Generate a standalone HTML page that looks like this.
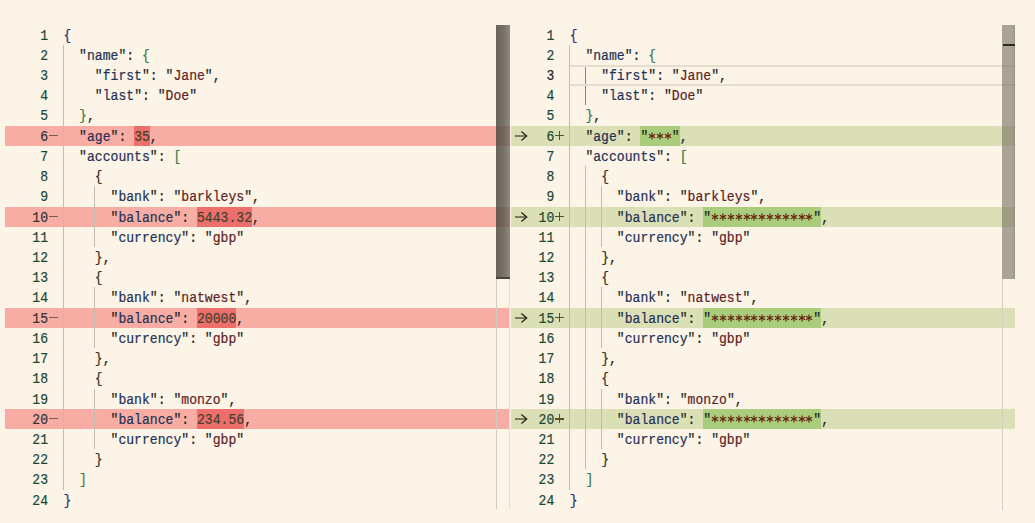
<!DOCTYPE html>
<html><head><meta charset="utf-8"><style>
*{margin:0;padding:0;box-sizing:border-box}
html,body{width:1035px;height:523px;overflow:hidden;background:#fcf4e7}
body{position:relative;font-family:"Liberation Mono",monospace;font-size:13.100px}
.a{position:absolute}
.ln{position:absolute;height:20.22px;line-height:20.22px;white-space:pre;transform:translateY(1.7px) scaleY(1.09);transform-origin:0 50%;-webkit-text-stroke:0.18px currentColor}
.p{color:#1e1e1e} .k{color:#233055} .s{color:#5c2224} .n{color:#453f2c}
.b0{color:#2c2f72} .b1{color:#3d7a4c} .b2{color:#3a3020} .ast{color:#66220e}

.num{position:absolute;height:20.22px;line-height:20.22px;text-align:right;width:40px;color:#1a4733;transform:translateY(1.7px) scaleY(1.09);transform-origin:0 50%;-webkit-text-stroke:0.18px currentColor}
.g{position:absolute;width:1px;background:#c3bbae}
</style></head>
<body>
<div class="a" style="left:4.5px;top:125.70px;width:505.5px;height:20.22px;background:#f7ada3"></div>
<div class="a" style="left:4.5px;top:206.58px;width:505.5px;height:20.22px;background:#f7ada3"></div>
<div class="a" style="left:4.5px;top:307.68px;width:505.5px;height:20.22px;background:#f7ada3"></div>
<div class="a" style="left:4.5px;top:408.78px;width:505.5px;height:20.22px;background:#f7ada3"></div>
<div class="a" style="left:134.14px;top:125.70px;width:15.72px;height:20.22px;background:#ec6f6b"></div>
<div class="a" style="left:197.02px;top:206.58px;width:55.02px;height:20.22px;background:#ec6f6b"></div>
<div class="a" style="left:197.02px;top:307.68px;width:39.30px;height:20.22px;background:#ec6f6b"></div>
<div class="a" style="left:197.02px;top:408.78px;width:47.16px;height:20.22px;background:#ec6f6b"></div>
<div class="g" style="left:63px;top:44.82px;height:444.84px"></div>
<div class="g" style="left:94px;top:186.36px;height:60.66px"></div>
<div class="g" style="left:94px;top:287.46px;height:60.66px"></div>
<div class="g" style="left:94px;top:388.56px;height:60.66px"></div>
<div class="num" style="left:8.00px;top:24.60px;color:#1a4733">1</div>
<div class="num" style="left:8.00px;top:44.82px;color:#1a4733">2</div>
<div class="num" style="left:8.00px;top:65.04px;color:#1a4733">3</div>
<div class="num" style="left:8.00px;top:85.26px;color:#1a4733">4</div>
<div class="num" style="left:8.00px;top:105.48px;color:#1a4733">5</div>
<div class="num" style="left:8.00px;top:125.70px;color:#333333">6</div>
<div class="a" style="left:49.3px;top:135.21px;width:8.6px;height:1.2px;background:#6e5e55"></div>
<div class="num" style="left:8.00px;top:145.92px;color:#1a4733">7</div>
<div class="num" style="left:8.00px;top:166.14px;color:#1a4733">8</div>
<div class="num" style="left:8.00px;top:186.36px;color:#1a4733">9</div>
<div class="num" style="left:8.00px;top:206.58px;color:#333333">10</div>
<div class="a" style="left:49.3px;top:216.09px;width:8.6px;height:1.2px;background:#6e5e55"></div>
<div class="num" style="left:8.00px;top:226.80px;color:#1a4733">11</div>
<div class="num" style="left:8.00px;top:247.02px;color:#1a4733">12</div>
<div class="num" style="left:8.00px;top:267.24px;color:#1a4733">13</div>
<div class="num" style="left:8.00px;top:287.46px;color:#1a4733">14</div>
<div class="num" style="left:8.00px;top:307.68px;color:#333333">15</div>
<div class="a" style="left:49.3px;top:317.19px;width:8.6px;height:1.2px;background:#6e5e55"></div>
<div class="num" style="left:8.00px;top:327.90px;color:#1a4733">16</div>
<div class="num" style="left:8.00px;top:348.12px;color:#1a4733">17</div>
<div class="num" style="left:8.00px;top:368.34px;color:#1a4733">18</div>
<div class="num" style="left:8.00px;top:388.56px;color:#1a4733">19</div>
<div class="num" style="left:8.00px;top:408.78px;color:#333333">20</div>
<div class="a" style="left:49.3px;top:418.29px;width:8.6px;height:1.2px;background:#6e5e55"></div>
<div class="num" style="left:8.00px;top:429.00px;color:#1a4733">21</div>
<div class="num" style="left:8.00px;top:449.22px;color:#1a4733">22</div>
<div class="num" style="left:8.00px;top:469.44px;color:#1a4733">23</div>
<div class="num" style="left:8.00px;top:489.66px;color:#1a4733">24</div>
<div class="ln" style="left:63.40px;top:24.60px"><span class="b0">{</span></div>
<div class="ln" style="left:63.40px;top:44.82px">  <span class="p">&quot;</span><span class="k">name</span><span class="p">&quot;</span><span class="p">:</span><span class="p"> </span><span class="b1">{</span></div>
<div class="ln" style="left:63.40px;top:65.04px">    <span class="p">&quot;</span><span class="k">first</span><span class="p">&quot;</span><span class="p">:</span><span class="p"> </span><span class="p">&quot;</span><span class="s">Jane</span><span class="p">&quot;</span><span class="p">,</span></div>
<div class="ln" style="left:63.40px;top:85.26px">    <span class="p">&quot;</span><span class="k">last</span><span class="p">&quot;</span><span class="p">:</span><span class="p"> </span><span class="p">&quot;</span><span class="s">Doe</span><span class="p">&quot;</span></div>
<div class="ln" style="left:63.40px;top:105.48px">  <span class="b1">}</span><span class="p">,</span></div>
<div class="ln" style="left:63.40px;top:125.70px">  <span class="p">&quot;</span><span class="k">age</span><span class="p">&quot;</span><span class="p">:</span><span class="p"> </span><span class="n">35</span><span class="p">,</span></div>
<div class="ln" style="left:63.40px;top:145.92px">  <span class="p">&quot;</span><span class="k">accounts</span><span class="p">&quot;</span><span class="p">:</span><span class="p"> </span><span class="b1">[</span></div>
<div class="ln" style="left:63.40px;top:166.14px">    <span class="b2">{</span></div>
<div class="ln" style="left:63.40px;top:186.36px">      <span class="p">&quot;</span><span class="k">bank</span><span class="p">&quot;</span><span class="p">:</span><span class="p"> </span><span class="p">&quot;</span><span class="s">barkleys</span><span class="p">&quot;</span><span class="p">,</span></div>
<div class="ln" style="left:63.40px;top:206.58px">      <span class="p">&quot;</span><span class="k">balance</span><span class="p">&quot;</span><span class="p">:</span><span class="p"> </span><span class="n">5443.32</span><span class="p">,</span></div>
<div class="ln" style="left:63.40px;top:226.80px">      <span class="p">&quot;</span><span class="k">currency</span><span class="p">&quot;</span><span class="p">:</span><span class="p"> </span><span class="p">&quot;</span><span class="s">gbp</span><span class="p">&quot;</span></div>
<div class="ln" style="left:63.40px;top:247.02px">    <span class="b2">}</span><span class="p">,</span></div>
<div class="ln" style="left:63.40px;top:267.24px">    <span class="b2">{</span></div>
<div class="ln" style="left:63.40px;top:287.46px">      <span class="p">&quot;</span><span class="k">bank</span><span class="p">&quot;</span><span class="p">:</span><span class="p"> </span><span class="p">&quot;</span><span class="s">natwest</span><span class="p">&quot;</span><span class="p">,</span></div>
<div class="ln" style="left:63.40px;top:307.68px">      <span class="p">&quot;</span><span class="k">balance</span><span class="p">&quot;</span><span class="p">:</span><span class="p"> </span><span class="n">20000</span><span class="p">,</span></div>
<div class="ln" style="left:63.40px;top:327.90px">      <span class="p">&quot;</span><span class="k">currency</span><span class="p">&quot;</span><span class="p">:</span><span class="p"> </span><span class="p">&quot;</span><span class="s">gbp</span><span class="p">&quot;</span></div>
<div class="ln" style="left:63.40px;top:348.12px">    <span class="b2">}</span><span class="p">,</span></div>
<div class="ln" style="left:63.40px;top:368.34px">    <span class="b2">{</span></div>
<div class="ln" style="left:63.40px;top:388.56px">      <span class="p">&quot;</span><span class="k">bank</span><span class="p">&quot;</span><span class="p">:</span><span class="p"> </span><span class="p">&quot;</span><span class="s">monzo</span><span class="p">&quot;</span><span class="p">,</span></div>
<div class="ln" style="left:63.40px;top:408.78px">      <span class="p">&quot;</span><span class="k">balance</span><span class="p">&quot;</span><span class="p">:</span><span class="p"> </span><span class="n">234.56</span><span class="p">,</span></div>
<div class="ln" style="left:63.40px;top:429.00px">      <span class="p">&quot;</span><span class="k">currency</span><span class="p">&quot;</span><span class="p">:</span><span class="p"> </span><span class="p">&quot;</span><span class="s">gbp</span><span class="p">&quot;</span></div>
<div class="ln" style="left:63.40px;top:449.22px">    <span class="b2">}</span></div>
<div class="ln" style="left:63.40px;top:469.44px">  <span class="b1">]</span></div>
<div class="ln" style="left:63.40px;top:489.66px"><span class="b0">}</span></div>
<div class="a" style="left:511px;top:125.70px;width:504px;height:20.22px;background:#dbdfb5"></div>
<div class="a" style="left:511px;top:206.58px;width:504px;height:20.22px;background:#dbdfb5"></div>
<div class="a" style="left:511px;top:307.68px;width:504px;height:20.22px;background:#dbdfb5"></div>
<div class="a" style="left:511px;top:408.78px;width:504px;height:20.22px;background:#dbdfb5"></div>
<div class="a" style="left:640.44px;top:125.70px;width:39.30px;height:20.22px;background:#a9cd7c"></div>
<div class="a" style="left:703.32px;top:206.58px;width:117.90px;height:20.22px;background:#a9cd7c"></div>
<div class="a" style="left:703.32px;top:307.68px;width:117.90px;height:20.22px;background:#a9cd7c"></div>
<div class="a" style="left:703.32px;top:408.78px;width:117.90px;height:20.22px;background:#a9cd7c"></div>
<svg class="a" style="left:647.23px;top:131.31px" width="10" height="10" viewBox="-5 -5 10 10"><path d="M0 -3.6V3.6M-3.12 -1.80L3.12 1.80M-3.12 1.80L3.12 -1.80" stroke="#66220e" stroke-width="1.15" fill="none"/></svg>
<svg class="a" style="left:655.09px;top:131.31px" width="10" height="10" viewBox="-5 -5 10 10"><path d="M0 -3.6V3.6M-3.12 -1.80L3.12 1.80M-3.12 1.80L3.12 -1.80" stroke="#66220e" stroke-width="1.15" fill="none"/></svg>
<svg class="a" style="left:662.95px;top:131.31px" width="10" height="10" viewBox="-5 -5 10 10"><path d="M0 -3.6V3.6M-3.12 -1.80L3.12 1.80M-3.12 1.80L3.12 -1.80" stroke="#66220e" stroke-width="1.15" fill="none"/></svg>
<svg class="a" style="left:710.11px;top:212.19px" width="10" height="10" viewBox="-5 -5 10 10"><path d="M0 -3.6V3.6M-3.12 -1.80L3.12 1.80M-3.12 1.80L3.12 -1.80" stroke="#66220e" stroke-width="1.15" fill="none"/></svg>
<svg class="a" style="left:717.97px;top:212.19px" width="10" height="10" viewBox="-5 -5 10 10"><path d="M0 -3.6V3.6M-3.12 -1.80L3.12 1.80M-3.12 1.80L3.12 -1.80" stroke="#66220e" stroke-width="1.15" fill="none"/></svg>
<svg class="a" style="left:725.83px;top:212.19px" width="10" height="10" viewBox="-5 -5 10 10"><path d="M0 -3.6V3.6M-3.12 -1.80L3.12 1.80M-3.12 1.80L3.12 -1.80" stroke="#66220e" stroke-width="1.15" fill="none"/></svg>
<svg class="a" style="left:733.69px;top:212.19px" width="10" height="10" viewBox="-5 -5 10 10"><path d="M0 -3.6V3.6M-3.12 -1.80L3.12 1.80M-3.12 1.80L3.12 -1.80" stroke="#66220e" stroke-width="1.15" fill="none"/></svg>
<svg class="a" style="left:741.55px;top:212.19px" width="10" height="10" viewBox="-5 -5 10 10"><path d="M0 -3.6V3.6M-3.12 -1.80L3.12 1.80M-3.12 1.80L3.12 -1.80" stroke="#66220e" stroke-width="1.15" fill="none"/></svg>
<svg class="a" style="left:749.41px;top:212.19px" width="10" height="10" viewBox="-5 -5 10 10"><path d="M0 -3.6V3.6M-3.12 -1.80L3.12 1.80M-3.12 1.80L3.12 -1.80" stroke="#66220e" stroke-width="1.15" fill="none"/></svg>
<svg class="a" style="left:757.27px;top:212.19px" width="10" height="10" viewBox="-5 -5 10 10"><path d="M0 -3.6V3.6M-3.12 -1.80L3.12 1.80M-3.12 1.80L3.12 -1.80" stroke="#66220e" stroke-width="1.15" fill="none"/></svg>
<svg class="a" style="left:765.13px;top:212.19px" width="10" height="10" viewBox="-5 -5 10 10"><path d="M0 -3.6V3.6M-3.12 -1.80L3.12 1.80M-3.12 1.80L3.12 -1.80" stroke="#66220e" stroke-width="1.15" fill="none"/></svg>
<svg class="a" style="left:772.99px;top:212.19px" width="10" height="10" viewBox="-5 -5 10 10"><path d="M0 -3.6V3.6M-3.12 -1.80L3.12 1.80M-3.12 1.80L3.12 -1.80" stroke="#66220e" stroke-width="1.15" fill="none"/></svg>
<svg class="a" style="left:780.85px;top:212.19px" width="10" height="10" viewBox="-5 -5 10 10"><path d="M0 -3.6V3.6M-3.12 -1.80L3.12 1.80M-3.12 1.80L3.12 -1.80" stroke="#66220e" stroke-width="1.15" fill="none"/></svg>
<svg class="a" style="left:788.71px;top:212.19px" width="10" height="10" viewBox="-5 -5 10 10"><path d="M0 -3.6V3.6M-3.12 -1.80L3.12 1.80M-3.12 1.80L3.12 -1.80" stroke="#66220e" stroke-width="1.15" fill="none"/></svg>
<svg class="a" style="left:796.57px;top:212.19px" width="10" height="10" viewBox="-5 -5 10 10"><path d="M0 -3.6V3.6M-3.12 -1.80L3.12 1.80M-3.12 1.80L3.12 -1.80" stroke="#66220e" stroke-width="1.15" fill="none"/></svg>
<svg class="a" style="left:804.43px;top:212.19px" width="10" height="10" viewBox="-5 -5 10 10"><path d="M0 -3.6V3.6M-3.12 -1.80L3.12 1.80M-3.12 1.80L3.12 -1.80" stroke="#66220e" stroke-width="1.15" fill="none"/></svg>
<svg class="a" style="left:710.11px;top:313.29px" width="10" height="10" viewBox="-5 -5 10 10"><path d="M0 -3.6V3.6M-3.12 -1.80L3.12 1.80M-3.12 1.80L3.12 -1.80" stroke="#66220e" stroke-width="1.15" fill="none"/></svg>
<svg class="a" style="left:717.97px;top:313.29px" width="10" height="10" viewBox="-5 -5 10 10"><path d="M0 -3.6V3.6M-3.12 -1.80L3.12 1.80M-3.12 1.80L3.12 -1.80" stroke="#66220e" stroke-width="1.15" fill="none"/></svg>
<svg class="a" style="left:725.83px;top:313.29px" width="10" height="10" viewBox="-5 -5 10 10"><path d="M0 -3.6V3.6M-3.12 -1.80L3.12 1.80M-3.12 1.80L3.12 -1.80" stroke="#66220e" stroke-width="1.15" fill="none"/></svg>
<svg class="a" style="left:733.69px;top:313.29px" width="10" height="10" viewBox="-5 -5 10 10"><path d="M0 -3.6V3.6M-3.12 -1.80L3.12 1.80M-3.12 1.80L3.12 -1.80" stroke="#66220e" stroke-width="1.15" fill="none"/></svg>
<svg class="a" style="left:741.55px;top:313.29px" width="10" height="10" viewBox="-5 -5 10 10"><path d="M0 -3.6V3.6M-3.12 -1.80L3.12 1.80M-3.12 1.80L3.12 -1.80" stroke="#66220e" stroke-width="1.15" fill="none"/></svg>
<svg class="a" style="left:749.41px;top:313.29px" width="10" height="10" viewBox="-5 -5 10 10"><path d="M0 -3.6V3.6M-3.12 -1.80L3.12 1.80M-3.12 1.80L3.12 -1.80" stroke="#66220e" stroke-width="1.15" fill="none"/></svg>
<svg class="a" style="left:757.27px;top:313.29px" width="10" height="10" viewBox="-5 -5 10 10"><path d="M0 -3.6V3.6M-3.12 -1.80L3.12 1.80M-3.12 1.80L3.12 -1.80" stroke="#66220e" stroke-width="1.15" fill="none"/></svg>
<svg class="a" style="left:765.13px;top:313.29px" width="10" height="10" viewBox="-5 -5 10 10"><path d="M0 -3.6V3.6M-3.12 -1.80L3.12 1.80M-3.12 1.80L3.12 -1.80" stroke="#66220e" stroke-width="1.15" fill="none"/></svg>
<svg class="a" style="left:772.99px;top:313.29px" width="10" height="10" viewBox="-5 -5 10 10"><path d="M0 -3.6V3.6M-3.12 -1.80L3.12 1.80M-3.12 1.80L3.12 -1.80" stroke="#66220e" stroke-width="1.15" fill="none"/></svg>
<svg class="a" style="left:780.85px;top:313.29px" width="10" height="10" viewBox="-5 -5 10 10"><path d="M0 -3.6V3.6M-3.12 -1.80L3.12 1.80M-3.12 1.80L3.12 -1.80" stroke="#66220e" stroke-width="1.15" fill="none"/></svg>
<svg class="a" style="left:788.71px;top:313.29px" width="10" height="10" viewBox="-5 -5 10 10"><path d="M0 -3.6V3.6M-3.12 -1.80L3.12 1.80M-3.12 1.80L3.12 -1.80" stroke="#66220e" stroke-width="1.15" fill="none"/></svg>
<svg class="a" style="left:796.57px;top:313.29px" width="10" height="10" viewBox="-5 -5 10 10"><path d="M0 -3.6V3.6M-3.12 -1.80L3.12 1.80M-3.12 1.80L3.12 -1.80" stroke="#66220e" stroke-width="1.15" fill="none"/></svg>
<svg class="a" style="left:804.43px;top:313.29px" width="10" height="10" viewBox="-5 -5 10 10"><path d="M0 -3.6V3.6M-3.12 -1.80L3.12 1.80M-3.12 1.80L3.12 -1.80" stroke="#66220e" stroke-width="1.15" fill="none"/></svg>
<svg class="a" style="left:710.11px;top:414.39px" width="10" height="10" viewBox="-5 -5 10 10"><path d="M0 -3.6V3.6M-3.12 -1.80L3.12 1.80M-3.12 1.80L3.12 -1.80" stroke="#66220e" stroke-width="1.15" fill="none"/></svg>
<svg class="a" style="left:717.97px;top:414.39px" width="10" height="10" viewBox="-5 -5 10 10"><path d="M0 -3.6V3.6M-3.12 -1.80L3.12 1.80M-3.12 1.80L3.12 -1.80" stroke="#66220e" stroke-width="1.15" fill="none"/></svg>
<svg class="a" style="left:725.83px;top:414.39px" width="10" height="10" viewBox="-5 -5 10 10"><path d="M0 -3.6V3.6M-3.12 -1.80L3.12 1.80M-3.12 1.80L3.12 -1.80" stroke="#66220e" stroke-width="1.15" fill="none"/></svg>
<svg class="a" style="left:733.69px;top:414.39px" width="10" height="10" viewBox="-5 -5 10 10"><path d="M0 -3.6V3.6M-3.12 -1.80L3.12 1.80M-3.12 1.80L3.12 -1.80" stroke="#66220e" stroke-width="1.15" fill="none"/></svg>
<svg class="a" style="left:741.55px;top:414.39px" width="10" height="10" viewBox="-5 -5 10 10"><path d="M0 -3.6V3.6M-3.12 -1.80L3.12 1.80M-3.12 1.80L3.12 -1.80" stroke="#66220e" stroke-width="1.15" fill="none"/></svg>
<svg class="a" style="left:749.41px;top:414.39px" width="10" height="10" viewBox="-5 -5 10 10"><path d="M0 -3.6V3.6M-3.12 -1.80L3.12 1.80M-3.12 1.80L3.12 -1.80" stroke="#66220e" stroke-width="1.15" fill="none"/></svg>
<svg class="a" style="left:757.27px;top:414.39px" width="10" height="10" viewBox="-5 -5 10 10"><path d="M0 -3.6V3.6M-3.12 -1.80L3.12 1.80M-3.12 1.80L3.12 -1.80" stroke="#66220e" stroke-width="1.15" fill="none"/></svg>
<svg class="a" style="left:765.13px;top:414.39px" width="10" height="10" viewBox="-5 -5 10 10"><path d="M0 -3.6V3.6M-3.12 -1.80L3.12 1.80M-3.12 1.80L3.12 -1.80" stroke="#66220e" stroke-width="1.15" fill="none"/></svg>
<svg class="a" style="left:772.99px;top:414.39px" width="10" height="10" viewBox="-5 -5 10 10"><path d="M0 -3.6V3.6M-3.12 -1.80L3.12 1.80M-3.12 1.80L3.12 -1.80" stroke="#66220e" stroke-width="1.15" fill="none"/></svg>
<svg class="a" style="left:780.85px;top:414.39px" width="10" height="10" viewBox="-5 -5 10 10"><path d="M0 -3.6V3.6M-3.12 -1.80L3.12 1.80M-3.12 1.80L3.12 -1.80" stroke="#66220e" stroke-width="1.15" fill="none"/></svg>
<svg class="a" style="left:788.71px;top:414.39px" width="10" height="10" viewBox="-5 -5 10 10"><path d="M0 -3.6V3.6M-3.12 -1.80L3.12 1.80M-3.12 1.80L3.12 -1.80" stroke="#66220e" stroke-width="1.15" fill="none"/></svg>
<svg class="a" style="left:796.57px;top:414.39px" width="10" height="10" viewBox="-5 -5 10 10"><path d="M0 -3.6V3.6M-3.12 -1.80L3.12 1.80M-3.12 1.80L3.12 -1.80" stroke="#66220e" stroke-width="1.15" fill="none"/></svg>
<svg class="a" style="left:804.43px;top:414.39px" width="10" height="10" viewBox="-5 -5 10 10"><path d="M0 -3.6V3.6M-3.12 -1.80L3.12 1.80M-3.12 1.80L3.12 -1.80" stroke="#66220e" stroke-width="1.15" fill="none"/></svg>
<div class="g" style="left:569px;top:44.82px;height:444.84px"></div>
<div class="g" style="left:585px;top:166.14px;height:303.30px"></div>
<div class="g" style="left:601px;top:186.36px;height:60.66px"></div>
<div class="g" style="left:601px;top:287.46px;height:60.66px"></div>
<div class="g" style="left:601px;top:388.56px;height:60.66px"></div>
<div class="g" style="left:585px;top:65.04px;height:40.44px;background:#8c8474"></div>
<div class="a" style="left:569.70px;top:65.34px;width:445.30px;height:1.4px;background:#e6ddcc"></div>
<div class="a" style="left:569.70px;top:84.36px;width:445.30px;height:1.4px;background:#e6ddcc"></div>
<div class="num" style="left:514.30px;top:24.60px;color:#1a4733">1</div>
<div class="num" style="left:514.30px;top:44.82px;color:#1a4733">2</div>
<div class="num" style="left:514.30px;top:65.04px;color:#222222">3</div>
<div class="num" style="left:514.30px;top:85.26px;color:#1a4733">4</div>
<div class="num" style="left:514.30px;top:105.48px;color:#1a4733">5</div>
<div class="num" style="left:514.30px;top:125.70px;color:#1a4733">6</div>
<div class="a" style="left:555px;top:135.16px;width:9px;height:1.3px;background:#5a5030"></div>
<div class="a" style="left:558.85px;top:131.31px;width:1.3px;height:9px;background:#5a5030"></div>
<svg class="a" style="left:512px;top:127.81px" width="18" height="16" viewBox="0 0 18 16"><path d="M3 8H14" fill="none" stroke="#464634" stroke-width="1.3"/><path d="M9.4 3.4L14.7 8L9.4 12.6" fill="none" stroke="#24241a" stroke-width="1.3"/></svg>
<div class="num" style="left:514.30px;top:145.92px;color:#1a4733">7</div>
<div class="num" style="left:514.30px;top:166.14px;color:#1a4733">8</div>
<div class="num" style="left:514.30px;top:186.36px;color:#1a4733">9</div>
<div class="num" style="left:514.30px;top:206.58px;color:#1a4733">10</div>
<div class="a" style="left:555px;top:216.04px;width:9px;height:1.3px;background:#5a5030"></div>
<div class="a" style="left:558.85px;top:212.19px;width:1.3px;height:9px;background:#5a5030"></div>
<svg class="a" style="left:512px;top:208.69px" width="18" height="16" viewBox="0 0 18 16"><path d="M3 8H14" fill="none" stroke="#464634" stroke-width="1.3"/><path d="M9.4 3.4L14.7 8L9.4 12.6" fill="none" stroke="#24241a" stroke-width="1.3"/></svg>
<div class="num" style="left:514.30px;top:226.80px;color:#1a4733">11</div>
<div class="num" style="left:514.30px;top:247.02px;color:#1a4733">12</div>
<div class="num" style="left:514.30px;top:267.24px;color:#1a4733">13</div>
<div class="num" style="left:514.30px;top:287.46px;color:#1a4733">14</div>
<div class="num" style="left:514.30px;top:307.68px;color:#1a4733">15</div>
<div class="a" style="left:555px;top:317.14px;width:9px;height:1.3px;background:#5a5030"></div>
<div class="a" style="left:558.85px;top:313.29px;width:1.3px;height:9px;background:#5a5030"></div>
<svg class="a" style="left:512px;top:309.79px" width="18" height="16" viewBox="0 0 18 16"><path d="M3 8H14" fill="none" stroke="#464634" stroke-width="1.3"/><path d="M9.4 3.4L14.7 8L9.4 12.6" fill="none" stroke="#24241a" stroke-width="1.3"/></svg>
<div class="num" style="left:514.30px;top:327.90px;color:#1a4733">16</div>
<div class="num" style="left:514.30px;top:348.12px;color:#1a4733">17</div>
<div class="num" style="left:514.30px;top:368.34px;color:#1a4733">18</div>
<div class="num" style="left:514.30px;top:388.56px;color:#1a4733">19</div>
<div class="num" style="left:514.30px;top:408.78px;color:#1a4733">20</div>
<div class="a" style="left:555px;top:418.24px;width:9px;height:1.3px;background:#5a5030"></div>
<div class="a" style="left:558.85px;top:414.39px;width:1.3px;height:9px;background:#5a5030"></div>
<svg class="a" style="left:512px;top:410.89px" width="18" height="16" viewBox="0 0 18 16"><path d="M3 8H14" fill="none" stroke="#464634" stroke-width="1.3"/><path d="M9.4 3.4L14.7 8L9.4 12.6" fill="none" stroke="#24241a" stroke-width="1.3"/></svg>
<div class="num" style="left:514.30px;top:429.00px;color:#1a4733">21</div>
<div class="num" style="left:514.30px;top:449.22px;color:#1a4733">22</div>
<div class="num" style="left:514.30px;top:469.44px;color:#1a4733">23</div>
<div class="num" style="left:514.30px;top:489.66px;color:#1a4733">24</div>
<div class="ln" style="left:569.70px;top:24.60px"><span class="b0">{</span></div>
<div class="ln" style="left:569.70px;top:44.82px">  <span class="p">&quot;</span><span class="k">name</span><span class="p">&quot;</span><span class="p">:</span><span class="p"> </span><span class="b1">{</span></div>
<div class="ln" style="left:569.70px;top:65.04px">    <span class="p">&quot;</span><span class="k">first</span><span class="p">&quot;</span><span class="p">:</span><span class="p"> </span><span class="p">&quot;</span><span class="s">Jane</span><span class="p">&quot;</span><span class="p">,</span></div>
<div class="ln" style="left:569.70px;top:85.26px">    <span class="p">&quot;</span><span class="k">last</span><span class="p">&quot;</span><span class="p">:</span><span class="p"> </span><span class="p">&quot;</span><span class="s">Doe</span><span class="p">&quot;</span></div>
<div class="ln" style="left:569.70px;top:105.48px">  <span class="b1">}</span><span class="p">,</span></div>
<div class="ln" style="left:569.70px;top:125.70px">  <span class="p">&quot;</span><span class="k">age</span><span class="p">&quot;</span><span class="p">:</span><span class="p"> </span><span class="p">&quot;</span>   <span class="p">&quot;</span><span class="p">,</span></div>
<div class="ln" style="left:569.70px;top:145.92px">  <span class="p">&quot;</span><span class="k">accounts</span><span class="p">&quot;</span><span class="p">:</span><span class="p"> </span><span class="b1">[</span></div>
<div class="ln" style="left:569.70px;top:166.14px">    <span class="b2">{</span></div>
<div class="ln" style="left:569.70px;top:186.36px">      <span class="p">&quot;</span><span class="k">bank</span><span class="p">&quot;</span><span class="p">:</span><span class="p"> </span><span class="p">&quot;</span><span class="s">barkleys</span><span class="p">&quot;</span><span class="p">,</span></div>
<div class="ln" style="left:569.70px;top:206.58px">      <span class="p">&quot;</span><span class="k">balance</span><span class="p">&quot;</span><span class="p">:</span><span class="p"> </span><span class="p">&quot;</span>             <span class="p">&quot;</span><span class="p">,</span></div>
<div class="ln" style="left:569.70px;top:226.80px">      <span class="p">&quot;</span><span class="k">currency</span><span class="p">&quot;</span><span class="p">:</span><span class="p"> </span><span class="p">&quot;</span><span class="s">gbp</span><span class="p">&quot;</span></div>
<div class="ln" style="left:569.70px;top:247.02px">    <span class="b2">}</span><span class="p">,</span></div>
<div class="ln" style="left:569.70px;top:267.24px">    <span class="b2">{</span></div>
<div class="ln" style="left:569.70px;top:287.46px">      <span class="p">&quot;</span><span class="k">bank</span><span class="p">&quot;</span><span class="p">:</span><span class="p"> </span><span class="p">&quot;</span><span class="s">natwest</span><span class="p">&quot;</span><span class="p">,</span></div>
<div class="ln" style="left:569.70px;top:307.68px">      <span class="p">&quot;</span><span class="k">balance</span><span class="p">&quot;</span><span class="p">:</span><span class="p"> </span><span class="p">&quot;</span>             <span class="p">&quot;</span><span class="p">,</span></div>
<div class="ln" style="left:569.70px;top:327.90px">      <span class="p">&quot;</span><span class="k">currency</span><span class="p">&quot;</span><span class="p">:</span><span class="p"> </span><span class="p">&quot;</span><span class="s">gbp</span><span class="p">&quot;</span></div>
<div class="ln" style="left:569.70px;top:348.12px">    <span class="b2">}</span><span class="p">,</span></div>
<div class="ln" style="left:569.70px;top:368.34px">    <span class="b2">{</span></div>
<div class="ln" style="left:569.70px;top:388.56px">      <span class="p">&quot;</span><span class="k">bank</span><span class="p">&quot;</span><span class="p">:</span><span class="p"> </span><span class="p">&quot;</span><span class="s">monzo</span><span class="p">&quot;</span><span class="p">,</span></div>
<div class="ln" style="left:569.70px;top:408.78px">      <span class="p">&quot;</span><span class="k">balance</span><span class="p">&quot;</span><span class="p">:</span><span class="p"> </span><span class="p">&quot;</span>             <span class="p">&quot;</span><span class="p">,</span></div>
<div class="ln" style="left:569.70px;top:429.00px">      <span class="p">&quot;</span><span class="k">currency</span><span class="p">&quot;</span><span class="p">:</span><span class="p"> </span><span class="p">&quot;</span><span class="s">gbp</span><span class="p">&quot;</span></div>
<div class="ln" style="left:569.70px;top:449.22px">    <span class="b2">}</span></div>
<div class="ln" style="left:569.70px;top:469.44px">  <span class="b1">]</span></div>
<div class="ln" style="left:569.70px;top:489.66px"><span class="b0">}</span></div>
<div class="a" style="left:496px;top:279px;width:1px;height:230px;background:#d2cabc"></div>
<div class="a" style="left:509px;top:279px;width:1px;height:230px;background:#e4ddd0"></div>
<div class="a" style="left:1002px;top:279px;width:1px;height:231px;background:#d6cfc2"></div>
<div class="a" style="left:496px;top:25px;width:14px;height:254px;background:linear-gradient(90deg,rgba(72,69,58,.82),rgba(86,82,72,.8) 55%,rgba(114,110,98,.78))"></div>
<div class="a" style="left:496px;top:277px;width:14px;height:2px;background:#4a4538"></div>
<div class="a" style="left:1002px;top:25px;width:13px;height:254px;background:linear-gradient(90deg,rgba(117,111,96,.6),rgba(117,111,96,.6) 85%,rgba(95,90,78,.65))"></div>
<div class="a" style="left:1002.5px;top:43.8px;width:12px;height:1.8px;background:#2e2a22"></div>
</body></html>
